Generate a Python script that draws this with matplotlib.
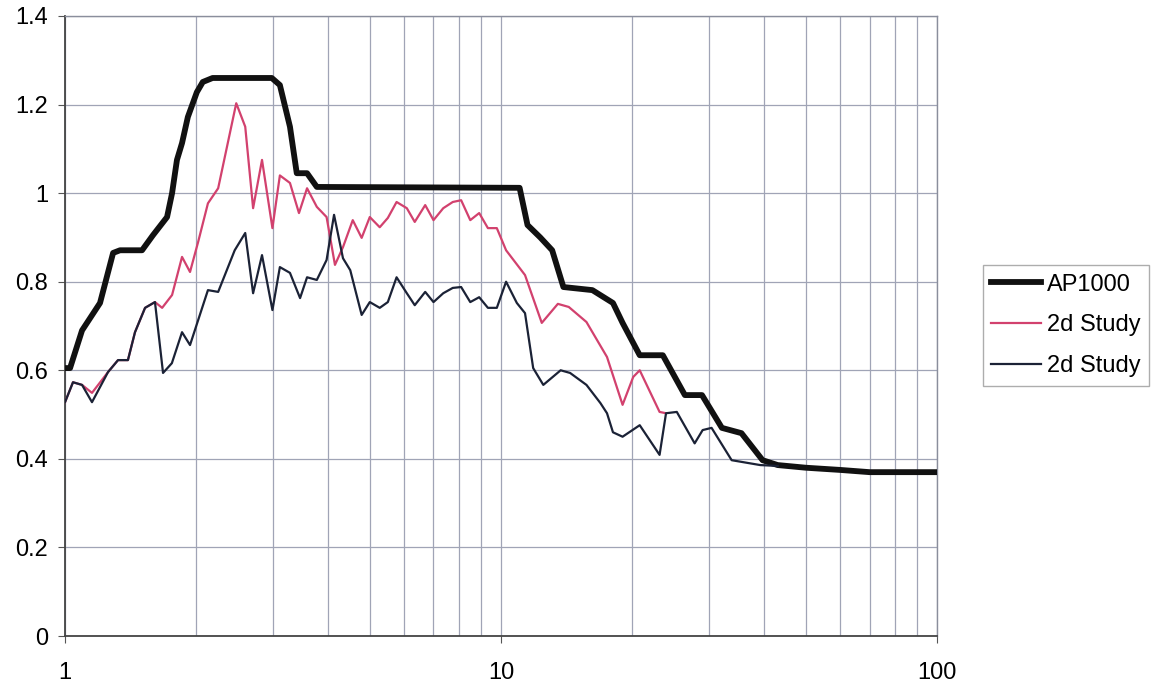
import matplotlib
matplotlib.use("Agg")
import matplotlib.pyplot as plt
from matplotlib.ticker import FixedLocator, NullFormatter

plt.rcParams["font.family"] = ["Liberation Sans", "DejaVu Sans"]

# ---------------------------------------------------------------------------
# Data (frequency, spectral value)
# ---------------------------------------------------------------------------
ap_f = [1.0, 1.027, 1.094, 1.203, 1.289, 1.337, 1.502, 1.591, 1.714, 1.76,
        1.806, 1.855, 1.913, 2.006, 2.07, 2.18, 2.98, 3.11, 3.28, 3.40,
        3.59, 3.78, 11.03, 11.5, 12.3, 13.1, 13.9, 16.2, 18.06, 19.0,
        20.8, 23.5, 26.4, 28.9, 32.1, 35.6, 39.8, 43.1, 50.0, 60.0,
        70.0, 100.0]
ap_v = [0.605, 0.605, 0.69, 0.752, 0.865, 0.871, 0.871, 0.905, 0.946, 1.0,
        1.075, 1.113, 1.172, 1.228, 1.251, 1.26, 1.26, 1.244, 1.15, 1.045,
        1.045, 1.014, 1.012, 0.928, 0.90, 0.871, 0.788, 0.781, 0.752, 0.707,
        0.634, 0.634, 0.544, 0.544, 0.470, 0.458, 0.397, 0.386, 0.38, 0.375,
        0.37, 0.37]

red_f = [1.0, 1.043, 1.094, 1.153, 1.255, 1.323, 1.394, 1.447, 1.526, 1.608,
         1.67, 1.76, 1.855, 1.935, 2.02, 2.127, 2.245, 2.47, 2.59, 2.70,
         2.83, 2.99, 3.11, 3.28, 3.44, 3.59, 3.78, 3.98, 4.16, 4.34,
         4.57, 4.79, 5.0, 5.27, 5.5, 5.76, 6.08, 6.34, 6.7, 7.0,
         7.37, 7.75, 8.1, 8.5, 8.91, 9.33, 9.78, 10.27, 11.35, 12.4,
         13.5, 14.3, 15.7, 17.5, 19.0, 20.1, 20.8, 23.1, 23.9]
red_v = [0.528, 0.573, 0.567, 0.549, 0.596, 0.623, 0.623, 0.686, 0.741, 0.754,
         0.741, 0.77, 0.856, 0.822, 0.89, 0.977, 1.011, 1.203, 1.15, 0.966,
         1.075, 0.921, 1.04, 1.023, 0.955, 1.011, 0.969, 0.946, 0.838, 0.878,
         0.939, 0.899, 0.946, 0.923, 0.944, 0.98, 0.966, 0.935, 0.973, 0.939,
         0.966, 0.98, 0.984, 0.939, 0.955, 0.921, 0.921, 0.871, 0.815, 0.707,
         0.75, 0.743, 0.709, 0.63, 0.522, 0.585, 0.60, 0.506, 0.503]

dark_f = [1.0, 1.043, 1.094, 1.153, 1.255, 1.323, 1.394, 1.447, 1.526, 1.608,
          1.678, 1.758, 1.855, 1.935, 2.127, 2.245, 2.45, 2.59, 2.70, 2.83,
          2.99, 3.11, 3.28, 3.46, 3.59, 3.78, 3.98, 4.14, 4.34, 4.51,
          4.79, 5.0, 5.27, 5.5, 5.76, 6.08, 6.34, 6.7, 7.0, 7.37,
          7.75, 8.1, 8.5, 8.91, 9.33, 9.78, 10.27, 10.87, 11.35, 11.85,
          12.5, 13.7, 14.4, 15.7, 16.9, 17.5, 18.06, 19.0, 20.8, 23.1,
          23.9, 25.3, 27.8, 29.0, 30.4, 33.8, 39.3, 43.1]
dark_v = [0.528, 0.573, 0.567, 0.528, 0.596, 0.623, 0.623, 0.686, 0.741, 0.754,
          0.594, 0.616, 0.686, 0.657, 0.781, 0.777, 0.871, 0.91, 0.774, 0.86,
          0.736, 0.833, 0.82, 0.763, 0.81, 0.804, 0.849, 0.951, 0.853, 0.826,
          0.725, 0.754, 0.741, 0.754, 0.81, 0.774, 0.747, 0.777, 0.754, 0.774,
          0.786, 0.788, 0.754, 0.765, 0.741, 0.741, 0.80, 0.752, 0.729, 0.605,
          0.567, 0.60, 0.594, 0.567, 0.526, 0.503, 0.46, 0.45, 0.476, 0.409,
          0.503, 0.506, 0.435, 0.465, 0.47, 0.397, 0.386, 0.384]

labels = ["AP1000", "2d Study", "2d Study"]
y_ticks = [0, 0.2, 0.4, 0.6, 0.8, 1.0, 1.2, 1.4]
y_tick_labels = ["0", "0.2", "0.4", "0.6", "0.8", "1", "1.2", "1.4"]

# ---------------------------------------------------------------------------
# Figure
# ---------------------------------------------------------------------------
fig = plt.figure(figsize=(11.55, 6.89), dpi=100)
ax = fig.add_axes([0.0563, 0.0769, 0.755, 0.8999])

grid_col = "#a0a4b6"
ax.plot(ap_f, ap_v, color="#111111", lw=4.2, solid_joinstyle="round",
        label=labels[0], zorder=3)
ax.plot(red_f, red_v, color="#d2416e", lw=1.6, label=labels[1], zorder=4)
ax.plot(dark_f, dark_v, color="#1b2236", lw=1.6, label=labels[2], zorder=5)

ax.set_xscale("log")
ax.set_xlim(1, 100)
ax.set_ylim(0, 1.4)

ax.xaxis.set_major_locator(FixedLocator([1, 10, 100]))
ax.xaxis.set_minor_locator(FixedLocator([m * d for d in (1, 10) for m in range(2, 10)]))
ax.xaxis.set_minor_formatter(NullFormatter())
ax.set_xticklabels(["1", "10", "100"])
ax.set_yticks(y_ticks)
ax.set_yticklabels(y_tick_labels)

ax.grid(True, which="major", color=grid_col, lw=0.9)
ax.grid(True, which="minor", axis="x", color=grid_col, lw=0.9)
ax.set_axisbelow(True)

ax.tick_params(axis="both", which="major", labelsize=17, color="#555555",
               length=5, direction="out")
ax.tick_params(axis="x", which="major", pad=14)
ax.tick_params(axis="x", which="minor", length=0)
ax.tick_params(axis="y", pad=7)

for side in ("left", "bottom"):
    ax.spines[side].set_color("#444444")
    ax.spines[side].set_linewidth(1.3)
for side in ("top", "right"):
    ax.spines[side].set_color("#8a8e9c")
    ax.spines[side].set_linewidth(1.0)

leg = ax.legend(loc="upper left", bbox_to_anchor=(1.0528, 0.598), fontsize=17,
                frameon=True, fancybox=False, edgecolor="#999999",
                handlelength=2.1, handletextpad=0.25, borderpad=0.35,
                labelspacing=0.8, borderaxespad=0)
leg.get_frame().set_linewidth(1.0)

fig.savefig("out.png", dpi=100)
